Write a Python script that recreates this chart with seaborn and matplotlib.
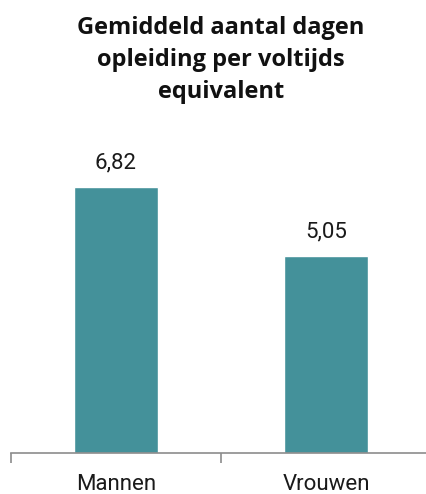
import matplotlib
matplotlib.use('Agg')
import pandas as pd
import seaborn as sns
import matplotlib.pyplot as plt
from matplotlib.ticker import FixedLocator

#data
categories = ['Mannen', 'Vrouwen']
values = [6.82, 5.05]
title = 'Gemiddeld aantal dagen\nopleiding per voltijds\nequivalent'

bar_color = '#44919a'
axis_color = '#8c8c8c'

sns.set_style('white')
plt.rcParams['font.family'] = ['Roboto', 'DejaVu Sans']

df = pd.DataFrame({'geslacht': categories, 'dagen': values})

fig = plt.figure(figsize=(4.27, 4.94), dpi=100)
ax = fig.add_axes([11 / 427, 41 / 494, 420 / 427, 312 / 494])

sns.barplot(data=df, x='geslacht', y='dagen', color=bar_color, saturation=1,
            width=0.4, ax=ax)

ax.set_xlim(-0.5, 1.5)
ax.set_ylim(0, 8)

#value labels with decimal comma
ax.bar_label(ax.containers[0], labels=[f'{v:.2f}'.replace('.', ',') for v in values],
             padding=10, fontsize=16, color='#1a1a1a')

#axes styling
for side in ['top', 'right', 'left']:
    ax.spines[side].set_visible(False)
ax.spines['bottom'].set_color(axis_color)
ax.spines['bottom'].set_linewidth(1.2)
ax.set_yticks([])
ax.set_xlabel('')
ax.set_ylabel('')
ax.tick_params(axis='x', which='major', length=0, pad=15, labelsize=16,
               labelcolor='#1a1a1a')
ax.xaxis.set_minor_locator(FixedLocator([-0.5, 0.5, 1.5]))
ax.tick_params(axis='x', which='minor', length=7, width=1.2, color=axis_color,
               bottom=True)

fig.text(221 / 427, 1 - 16 / 494, title, ha='center', va='top', fontsize=17,
         fontweight='bold', family=['Open Sans', 'DejaVu Sans'],
         linespacing=1.45, color='#111111')

fig.savefig('out.png', dpi=100)
